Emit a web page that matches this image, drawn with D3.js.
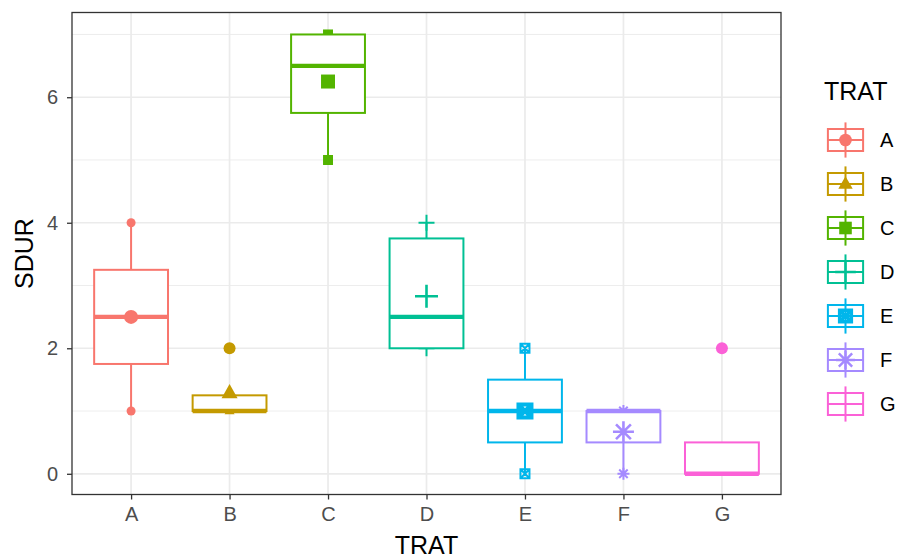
<!DOCTYPE html>
<html>
<head>
<meta charset="utf-8">
<script src="https://cdn.jsdelivr.net/npm/d3@7"></script>
<style>
  html, body { margin: 0; padding: 0; background: #fff; }
  svg { display: block; font-family: "Liberation Sans", Arial, Helvetica, sans-serif; }
</style>
</head>
<body>
<svg id="chart" width="897" height="558"></svg>
<script>
// Treatment groups and their box statistics (SDUR)
const categories = ["A", "B", "C", "D", "E", "F", "G"];
const colors = ["#F8766D", "#C49A00", "#53B400", "#00C094", "#00B6EB", "#A58AFF", "#FB61D7"];
const shapes = ["circle", "triangle", "square", "plus", "squarecross", "asterisk", null];
const lowerWhisker = [1, 1, 5, 2, 0, 0, 0];
const lowerHinge   = [1.75, 1, 5.75, 2, 0.5, 0.5, 0];
const medians      = [2.5, 1, 6.5, 2.5, 1, 1, 0];
const upperHinge   = [3.25, 1.25, 7, 3.75, 1.5, 1, 0.5];
const upperWhisker = [4, 1.25, 7, 4, 2, 1, 0.5];
const means        = [2.5, 1.29, 6.25, 2.83, 1, 0.67, null];
// Outliers flagged by the boxplot
const outlierGroup = ["B", "G"];
const outlierValue = [2, 2];
// Individual observations that fall outside the boxes
const pointGroup = ["A", "A", "B", "C", "C", "D", "D", "E", "E", "F", "F"];
const pointValue = [1, 4, 1, 5, 7, 2, 4, 0, 2, 0, 1];
const yTicks = [0, 2, 4, 6];
const yMinor = [1, 3, 5, 7];

const svg = d3.select("#chart");
const panel = { left: 72, right: 781, top: 12.5, bottom: 494.5 };

const x = d3.scalePoint().domain(categories).range([panel.left, panel.right]).padding(0.6);
const y = d3.scaleLinear().domain([-0.33, 7.35]).range([panel.bottom, panel.top]);
const boxW = x.step() * 0.75;
const color = d3.scaleOrdinal().domain(categories).range(colors);
const shapeOf = d3.scaleOrdinal().domain(categories).range(shapes);

// Marker path generator (centred at 0,0); s is the overall marker width in px
function markerPath(shape, s) {
  const h = s / 2;
  switch (shape) {
    case "circle": return d3.symbol(d3.symbolCircle, Math.PI * h * h)();
    case "square": return `M${-h},${-h}H${h}V${h}H${-h}Z`;
    case "triangle": {
      const th = s * 0.88;
      return `M0,${-th * 0.62}L${h},${th * 0.38}L${-h},${th * 0.38}Z`;
    }
    case "plus": return `M${-h},0H${h}M0,${-h}V${h}`;
    case "squarecross": return `M${-h},${-h}H${h}V${h}H${-h}ZM${-h},${-h}L${h},${h}M${h},${-h}L${-h},${h}`;
    case "asterisk": {
      const d = h * 0.7071;
      return `M${-h},0H${h}M0,${-h}V${h}M${-d},${-d}L${d},${d}M${d},${-d}L${-d},${d}`;
    }
  }
  return "";
}
const filledShapes = new Set(["circle", "square", "triangle"]);
function drawMarker(g, shape, col, s, cx, cy, sw) {
  if (!shape) return;
  const filled = filledShapes.has(shape);
  g.append("path")
    .attr("d", markerPath(shape, s))
    .attr("transform", `translate(${cx},${cy})`)
    .attr("fill", filled ? col : "none")
    .attr("stroke", filled ? "none" : col)
    .attr("stroke-width", sw || 2)
    .attr("stroke-linecap", "butt");
}
const smallSize = { circle: 9, square: 10, triangle: 10, plus: 16, squarecross: 9, asterisk: 12 };
const meanSize  = { circle: 14, square: 14, triangle: 16, plus: 23, squarecross: 13, asterisk: 21 };

// Panel background and grid
svg.append("rect").attr("x", panel.left).attr("y", panel.top)
  .attr("width", panel.right - panel.left).attr("height", panel.bottom - panel.top)
  .attr("fill", "#fff");
const grid = svg.append("g");
yMinor.forEach(v => grid.append("line")
  .attr("x1", panel.left).attr("x2", panel.right).attr("y1", y(v)).attr("y2", y(v))
  .attr("stroke", "#EBEBEB").attr("stroke-width", 0.9));
yTicks.forEach(v => grid.append("line")
  .attr("x1", panel.left).attr("x2", panel.right).attr("y1", y(v)).attr("y2", y(v))
  .attr("stroke", "#EBEBEB").attr("stroke-width", 1.7));
categories.forEach(c => grid.append("line")
  .attr("x1", x(c)).attr("x2", x(c)).attr("y1", panel.top).attr("y2", panel.bottom)
  .attr("stroke", "#EBEBEB").attr("stroke-width", 1.7));

// Individual observations (drawn beneath the boxes)
const pts = svg.append("g");
pointGroup.forEach((gname, i) => {
  const sh = shapeOf(gname);
  drawMarker(pts, sh, color(gname), smallSize[sh], x(gname), y(pointValue[i]), 2);
});

// Boxes, whiskers and medians
const boxes = svg.append("g");
categories.forEach((c, i) => {
  const col = color(c), cx = x(c);
  boxes.append("line").attr("x1", cx).attr("x2", cx)
    .attr("y1", y(upperHinge[i])).attr("y2", y(upperWhisker[i]))
    .attr("stroke", col).attr("stroke-width", 2);
  boxes.append("line").attr("x1", cx).attr("x2", cx)
    .attr("y1", y(lowerHinge[i])).attr("y2", y(lowerWhisker[i]))
    .attr("stroke", col).attr("stroke-width", 2);
  boxes.append("rect")
    .attr("x", cx - boxW / 2).attr("width", boxW)
    .attr("y", y(upperHinge[i])).attr("height", y(lowerHinge[i]) - y(upperHinge[i]))
    .attr("fill", "#fff").attr("stroke", col).attr("stroke-width", 2);
  boxes.append("line").attr("x1", cx - boxW / 2).attr("x2", cx + boxW / 2)
    .attr("y1", y(medians[i])).attr("y2", y(medians[i]))
    .attr("stroke", col).attr("stroke-width", 4.4);
});
outlierGroup.forEach((gname, i) => {
  boxes.append("circle").attr("cx", x(gname)).attr("cy", y(outlierValue[i]))
    .attr("r", 6).attr("fill", color(gname));
});

// Group means
const meanG = svg.append("g");
categories.forEach((c, i) => {
  if (means[i] == null) return;
  const sh = shapeOf(c);
  drawMarker(meanG, sh, color(c), meanSize[sh], x(c), y(means[i]), sh === "squarecross" ? 4 : 2.6);
});

// Panel border
svg.append("rect").attr("x", panel.left).attr("y", panel.top)
  .attr("width", panel.right - panel.left).attr("height", panel.bottom - panel.top)
  .attr("fill", "none").attr("stroke", "#333").attr("stroke-width", 1.3);

// Axes
const yAxis = d3.axisLeft(y).tickValues(yTicks).tickSize(5).tickPadding(9).tickFormat(d3.format("d"));
const gy = svg.append("g").attr("transform", `translate(${panel.left},0)`).call(yAxis);
const xAxis = d3.axisBottom(x).tickSize(5).tickPadding(7);
const gx = svg.append("g").attr("transform", `translate(0,${panel.bottom})`).call(xAxis);
[gx, gy].forEach(g => {
  g.select(".domain").remove();
  g.selectAll(".tick line").attr("stroke", "#333").attr("stroke-width", 1.3);
  g.selectAll(".tick text").attr("fill", "#4D4D4D").attr("font-size", 20)
    .attr("font-family", "Liberation Sans, Arial, sans-serif");
});

// Axis titles
svg.append("text").attr("x", (panel.left + panel.right) / 2).attr("y", 554)
  .attr("text-anchor", "middle").attr("font-size", 25).attr("fill", "#000").text("TRAT");
svg.append("text").attr("transform", `translate(33,${(panel.top + panel.bottom) / 2}) rotate(-90)`)
  .attr("text-anchor", "middle").attr("font-size", 25).attr("fill", "#000").text("SDUR");

// Legend
const legend = svg.append("g");
legend.append("text").attr("x", 824).attr("y", 100).attr("font-size", 25).attr("fill", "#000").text("TRAT");
const keySize = 44, keyX = 823.5, keyTop0 = 118;
categories.forEach((c, i) => {
  const col = color(c);
  const kx = keyX, ky = keyTop0 + i * keySize;
  const cx = kx + keySize / 2, cy = ky + keySize / 2;
  const k = legend.append("g");
  k.append("line").attr("x1", cx).attr("x2", cx).attr("y1", ky + keySize * 0.1).attr("y2", ky + keySize * 0.9)
    .attr("stroke", col).attr("stroke-width", 2);
  k.append("rect").attr("x", kx + keySize * 0.1).attr("y", ky + keySize * 0.25)
    .attr("width", keySize * 0.8).attr("height", keySize * 0.5)
    .attr("fill", "#fff").attr("stroke", col).attr("stroke-width", 2);
  k.append("line").attr("x1", kx + keySize * 0.1).attr("x2", kx + keySize * 0.9).attr("y1", cy).attr("y2", cy)
    .attr("stroke", col).attr("stroke-width", 2);
  k.append("line").attr("x1", cx).attr("x2", cx).attr("y1", ky + keySize * 0.25).attr("y2", ky + keySize * 0.75)
    .attr("stroke", col).attr("stroke-width", 2);
  const sh = shapeOf(c);
  drawMarker(k, sh, col, meanSize[sh] * 0.9, cx, cy, sh === "squarecross" ? 3.5 : 2.4);
  legend.append("text").attr("x", 880).attr("y", cy).attr("dy", "0.35em")
    .attr("font-size", 20).attr("fill", "#000").text(c);
});
</script>
</body>
</html>
